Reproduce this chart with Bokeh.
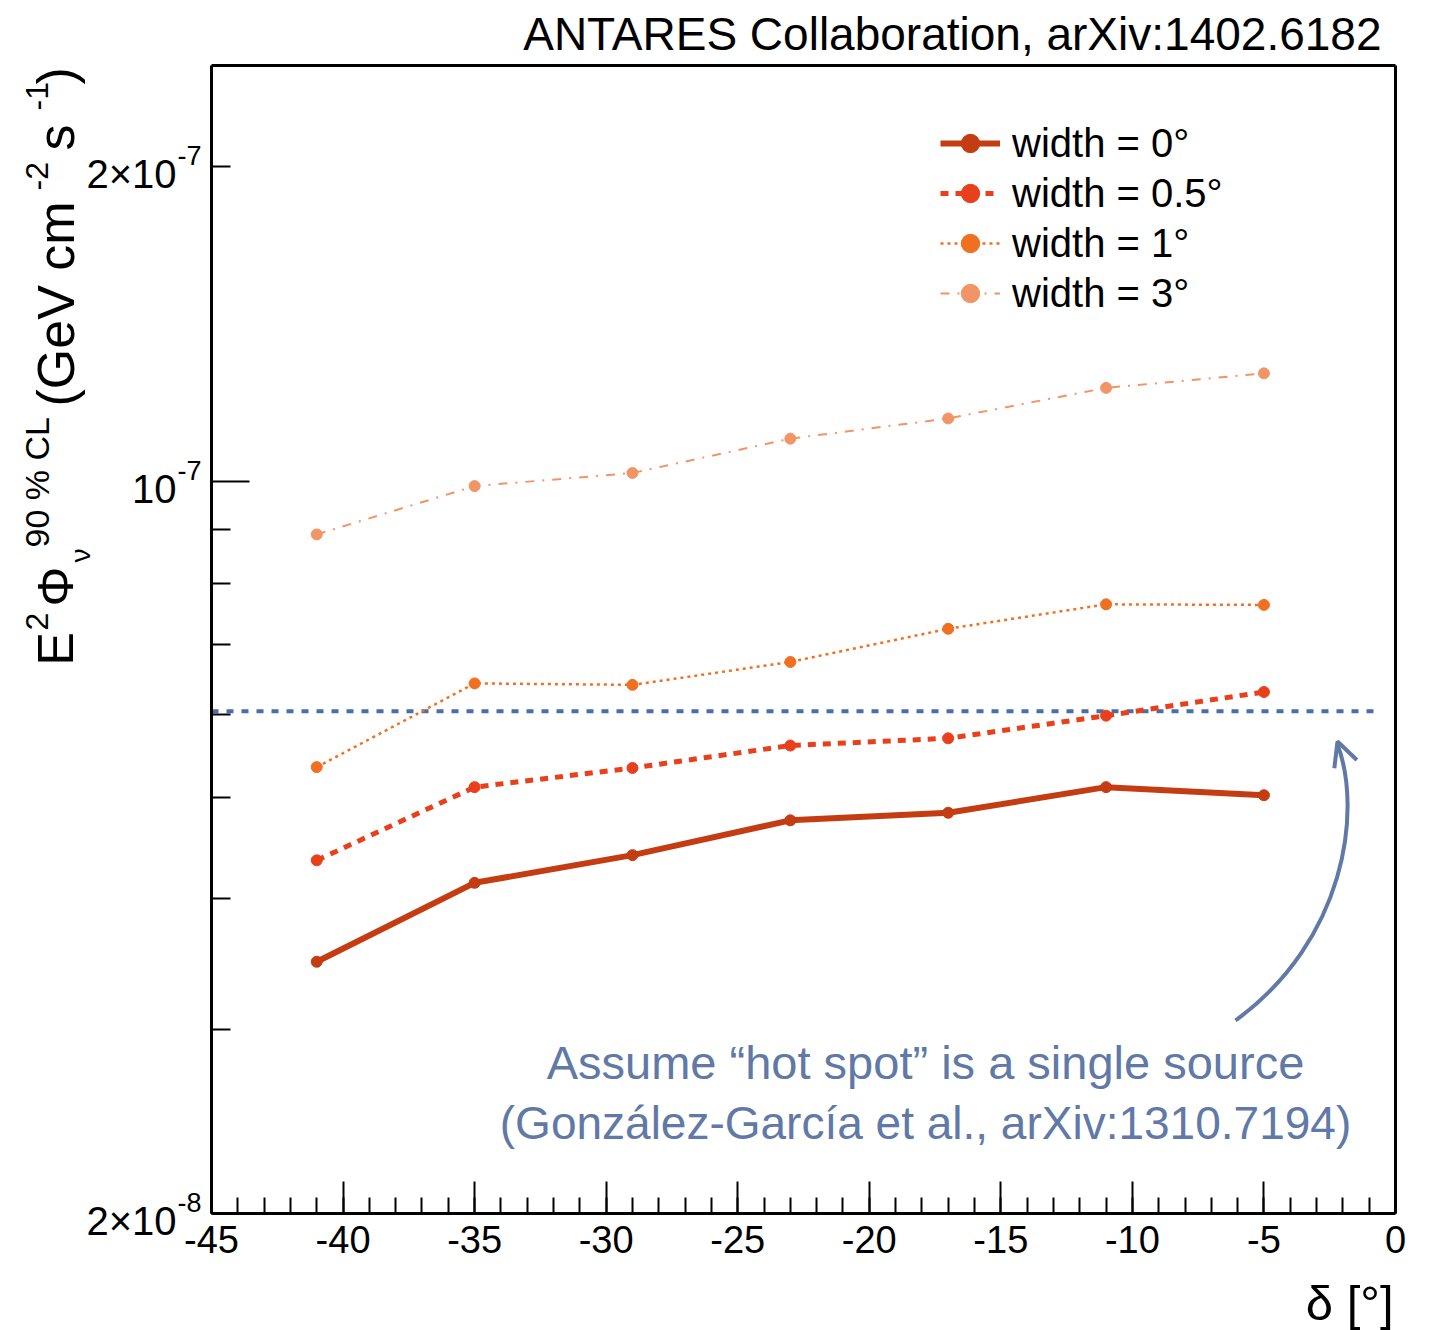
import math
from bokeh.plotting import figure
from bokeh.models import (Label, Legend, LegendItem, FixedTicker, Arrow, OpenHead,
                          Range1d, LinearAxis, LogAxis)
from bokeh.embed import file_html
from bokeh.resources import INLINE

# ---------------- data ----------------
declination = [-41, -35, -29, -23, -17, -11, -5]
limit_w0 = [3.48e-8, 4.14e-8, 4.40e-8, 4.75e-8, 4.83e-8, 5.11e-8, 5.02e-8]
limit_w05 = [4.35e-8, 5.11e-8, 5.33e-8, 5.60e-8, 5.69e-8, 5.98e-8, 6.30e-8]
limit_w1 = [5.34e-8, 6.42e-8, 6.40e-8, 6.73e-8, 7.24e-8, 7.64e-8, 7.63e-8]
limit_w3 = [8.91e-8, 9.91e-8, 1.02e-7, 1.10e-7, 1.15e-7, 1.23e-7, 1.27e-7]
series_labels = ["width = 0°", "width = 0.5°", "width = 1°", "width = 3°"]
hot_spot_limit = 6.04e-8
hot_spot_x = [-45, -0.7]

x_major_ticks = [-45, -40, -35, -30, -25, -20, -15, -10, -5, 0]
x_minor_ticks = [v for v in range(-45, 1)]
y_major_ticks = [1e-7]
y_minor_ticks = [2e-8, 3e-8, 4e-8, 5e-8, 6e-8, 7e-8, 8e-8, 9e-8, 2e-7]
y_tick_labels = [(2e-7, "2×10", "-7"), (1e-7, "10", "-7"), (2e-8, "2×10", "-8")]

title_text = "ANTARES Collaboration, arXiv:1402.6182"
note_lines = ["Assume “hot spot” is a single source",
              "(González-García et al., arXiv:1310.7194)"]

# ---------------- layout ----------------
W, H = 1429, 1330
FL, FR, FT, FB = 211, 1395, 65, 1213   # pixel box of the axes area
X0, X1 = -45, 0
Y0, Y1 = 2e-8, 2.5e-7
FONT = "Liberation Sans"
LY0, LY1 = math.log10(Y0), math.log10(Y1)


def dx(px):
    return X0 + (px - FL) * (X1 - X0) / (FR - FL)


def dy(py):
    return 10 ** (LY1 - (py - FT) * (LY1 - LY0) / (FB - FT))


def py_of(val):
    return FT + (LY1 - math.log10(val)) / (LY1 - LY0) * (FB - FT)


p = figure(width=W, height=H, x_range=Range1d(dx(0), dx(W)), y_range=Range1d(dy(H), dy(0)),
           y_axis_type="log", output_backend="svg", toolbar_location=None,
           min_border=0, min_border_left=0, min_border_right=0, min_border_top=0,
           min_border_bottom=0, background_fill_color="white",
           border_fill_color="white")
p.xgrid.visible = False
p.ygrid.visible = False
p.outline_line_color = None

xa = p.xaxis[0]
xa.fixed_location = Y0
xa.bounds = (X0, X1)
xa.ticker = FixedTicker(ticks=x_major_ticks, minor_ticks=x_minor_ticks)
xa.major_label_overrides = {t: str(t) for t in x_major_ticks}
xa.major_tick_in = 32
xa.major_tick_out = 0
xa.minor_tick_in = 16
xa.minor_tick_out = 0
xa.major_tick_line_width = 2
xa.minor_tick_line_width = 2
xa.axis_line_width = 3
xa.major_label_text_font = FONT
xa.major_label_text_font_size = "38px"
xa.major_label_text_color = "black"
xa.major_label_standoff = 12

ya = p.yaxis[0]
ya.fixed_location = X0
ya.bounds = (Y0, Y1)
ya.ticker = FixedTicker(ticks=y_major_ticks, minor_ticks=y_minor_ticks)
ya.major_tick_in = 38
ya.major_tick_out = 0
ya.minor_tick_in = 19
ya.minor_tick_out = 0
ya.major_tick_line_width = 2
ya.minor_tick_line_width = 2
ya.axis_line_width = 3
ya.major_label_text_color = None
ya.major_label_text_font_size = "10px"

top_axis = LinearAxis(fixed_location=Y1, bounds=(X0, X1), axis_line_width=3,
                      major_tick_line_color=None, minor_tick_line_color=None,
                      major_label_text_color=None, major_label_text_font_size="10px")
p.add_layout(top_axis, "above")
right_axis = LogAxis(fixed_location=X1, bounds=(Y0, Y1), axis_line_width=3,
                     major_tick_line_color=None, minor_tick_line_color=None,
                     major_label_text_color=None, major_label_text_font_size="10px")
p.add_layout(right_axis, "right")

# hot spot line
p.line(hot_spot_x, [hot_spot_limit] * len(hot_spot_x), line_color="#4a6fa6",
       line_width=4, line_dash="7 8")

styles = [
    dict(color="#c43c12", width=6, dash="solid"),
    dict(color="#e8401c", width=5, dash="8 7"),
    dict(color="#f07022", width=2.5, dash="3 4"),
    dict(color="#f29566", width=2, dash="9 8 2 8"),
]
series = [limit_w0, limit_w05, limit_w1, limit_w3]
items = []
for vals, st, lab in zip(series, styles, series_labels):
    r1 = p.line(declination, vals, line_color=st["color"], line_width=st["width"],
                line_dash=st["dash"])
    r2 = p.scatter(declination, vals, size=11, fill_color=st["color"],
                   line_color=st["color"])
    items.append(LegendItem(label=lab, renderers=[r1, r2]))

legend = Legend(items=items, location=(940, 1014), label_text_font=FONT,
                label_text_font_size="40px", label_text_color="black",
                glyph_width=60, glyph_height=46,
                spacing=4, label_standoff=12, padding=0, margin=0,
                border_line_color=None, background_fill_alpha=0)
p.add_layout(legend)

# y tick labels with superscripts
for val, main, sup in y_tick_labels:
    ty = py_of(val)
    p.add_layout(Label(x=dx(176), y=dy(ty + 7), text=main, text_align="right",
                       text_baseline="middle", text_font=FONT,
                       text_font_size="40px", text_color="black"))
    p.add_layout(Label(x=dx(177), y=dy(ty - 11), text=sup, text_align="left",
                       text_baseline="middle", text_font=FONT,
                       text_font_size="27px", text_color="black"))

# rotated y-axis label made of pieces: (text, start y px, centre x px, size)
ylabel_pieces = [
    ("E", 665, 55, 50),
    ("2", 630, 36, 32),
    ("Φ", 606, 55, 50),
    ("ν", 562, 80, 28),
    ("90 % CL", 547, 36, 34),
    ("(GeV cm", 406, 55, 52),
    ("-2", 190, 36, 32),
    ("s", 150, 55, 52),
    ("-1", 110, 36, 32),
    (")", 84, 55, 52),
]
for txt, sy, cx, fs in ylabel_pieces:
    p.add_layout(Label(x=dx(cx), y=dy(sy), text=txt, angle=math.pi / 2,
                       text_align="left", text_baseline="middle",
                       text_font=FONT, text_font_size=f"{fs}px", text_color="black"))

# x-axis label
p.add_layout(Label(x=dx(1393), y=dy(1302), text="δ [°]", text_align="right",
                   text_baseline="middle", text_font=FONT,
                   text_font_size="49px", text_color="black"))

# top text
p.add_layout(Label(x=dx(1381), y=dy(33), text=title_text, text_align="right",
                   text_baseline="middle", text_font=FONT,
                   text_font_size="46px", text_color="black"))

# annotation
note_color = "#6079a6"
for line_txt, cy, fs in zip(note_lines, [1062, 1122], [47, 46]):
    p.add_layout(Label(x=dx(925), y=dy(cy), text=line_txt, text_align="center",
                       text_baseline="middle", text_font=FONT,
                       text_font_size=f"{fs}px", text_color=note_color))

p.bezier(x0=[dx(1235)], y0=[dy(1020)], x1=[dx(1337)], y1=[dy(744)],
         cx0=[dx(1345)], cy0=[dy(940)], cx1=[dx(1362)], cy1=[dy(810)],
         line_color=note_color, line_width=4)
p.add_layout(Arrow(end=OpenHead(size=24, line_color=note_color, line_width=4),
                   x_start=dx(1346), y_start=dy(766), x_end=dx(1337), y_end=dy(741),
                   line_color=note_color, line_width=4, line_alpha=0))

open("out.html", "w").write(file_html(p, INLINE))
